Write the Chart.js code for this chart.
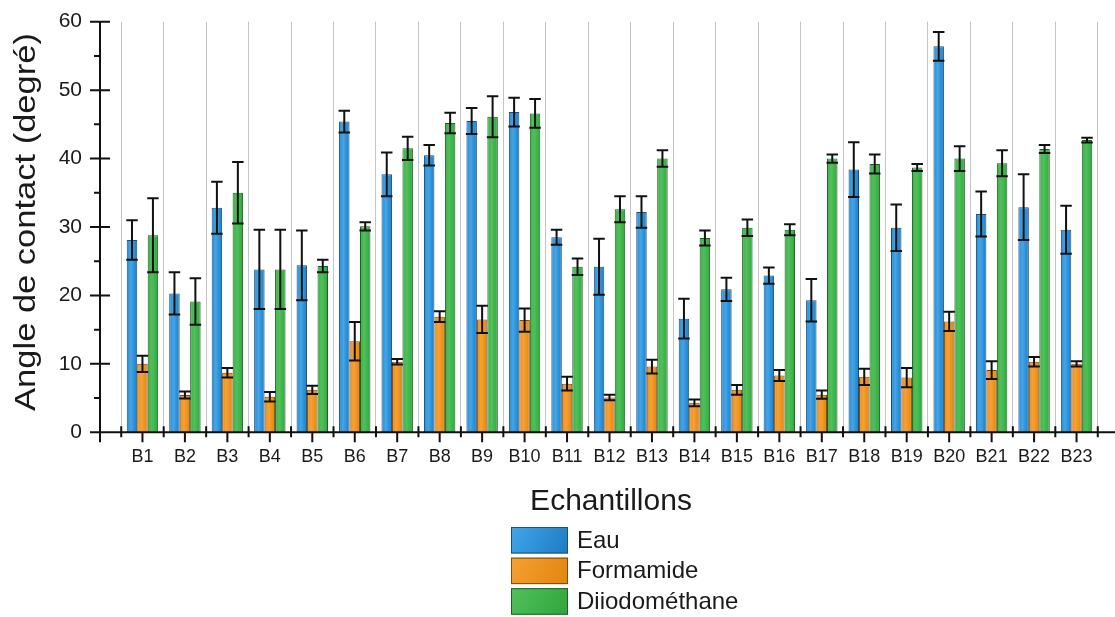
<!DOCTYPE html>
<html>
<head>
<meta charset="utf-8">
<script src="https://cdn.jsdelivr.net/npm/chart.js@4/dist/chart.umd.min.js"></script>
<style>
html,body{margin:0;padding:0;background:#fff;overflow:hidden;width:1115px;height:617px}
#wrap{position:relative;width:1115px;height:617px;overflow:hidden}
canvas{display:block}
</style>
</head>
<body>
<div id="wrap"><canvas id="c" width="1119" height="617" style="width:1119px;height:617px"></canvas></div>
<script>
const categories = ['B1','B2','B3','B4','B5','B6','B7','B8','B9','B10','B11','B12','B13','B14','B15','B16','B17','B18','B19','B20','B21','B22','B23'];
const seriesNames = ['Eau','Formamide','Diiodométhane'];
const eau      = [28.1,20.3,32.8,23.8,24.4,45.4,37.7,40.5,45.5,46.8,28.5,24.2,32.2,16.6,20.9,22.9,19.3,38.4,29.9,56.4,31.9,32.9,29.6];
const eauErr   = [2.9,3.1,3.8,5.8,5.1,1.6,3.2,1.5,1.9,2.1,1.1,4.1,2.3,2.9,1.7,1.2,3.1,4.0,3.4,2.1,3.3,4.8,3.5];
const forma    = [10.0,5.45,8.7,5.2,6.2,13.3,10.3,16.9,16.5,16.4,7.1,5.1,9.6,4.3,6.2,8.3,5.5,8.1,8.0,16.2,9.1,10.3,10.0];
const formaErr = [1.2,0.5,0.7,0.7,0.6,2.8,0.4,0.8,2.0,1.7,1.0,0.4,1.0,0.5,0.7,0.8,0.6,1.2,1.4,1.4,1.3,0.7,0.4];
const diiodo   = [28.8,19.1,35.0,23.8,24.3,30.1,41.5,45.2,46.1,46.6,24.2,32.6,40.0,28.4,29.9,29.6,40.0,39.2,38.7,40.0,39.3,41.4,42.7];
const diiodoErr= [5.4,3.4,4.5,5.8,0.9,0.6,1.7,1.5,3.0,2.1,1.2,1.9,1.2,1.1,1.2,0.8,0.6,1.4,0.5,1.8,1.9,0.6,0.35];
const yTicks = [0,10,20,30,40,50,60];
const xTitle = 'Echantillons';
const yTitle = 'Angle de contact (degré)';

const FONT = "'Liberation Sans', Arial, Helvetica, sans-serif";
const TEXT = '#1a1a1a';
const pad = a => [null, ...a, null];
const xLabels = ['', ...categories, ''];

function barGrad(stops) {
  return c => {
    const el = c.element;
    if (!el || !isFinite(el.x) || !isFinite(el.width) || el.width <= 0) return stops[1];
    const g = c.chart.ctx.createLinearGradient(el.x - el.width / 2, 0, el.x + el.width / 2, 0);
    g.addColorStop(0, stops[0]);
    g.addColorStop(0.4, stops[1]);
    g.addColorStop(1, stops[2]);
    return g;
  };
}
const styles = [
  {stops:['#2a8bd3','#41a6e8','#1e7bc3'], border:'#1b4f7c'},
  {stops:['#ee8f1a','#f5a133','#e3840f'], border:'#7f4a0e'},
  {stops:['#3cb047','#50c15a','#32a53d'], border:'#1d5f25'}
];
const values = [eau, forma, diiodo];
const errs = [eauErr, formaErr, diiodoErr];

const decor = {
  id: 'decor',
  afterDatasetsDraw(chart) {
    const ctx = chart.ctx, y = chart.scales.y;
    ctx.save();
    ctx.strokeStyle = '#111';
    ctx.lineWidth = 2;
    chart.data.datasets.forEach((ds, di) => {
      const meta = chart.getDatasetMeta(di);
      meta.data.forEach((bar, i) => {
        const v = ds.data[i], e = ds.errors[i];
        if (v == null || e == null) return;
        const yT = y.getPixelForValue(v + e), yB = y.getPixelForValue(v - e);
        const half = bar.width / 2 + 0.5;
        ctx.beginPath();
        ctx.moveTo(bar.x, yT); ctx.lineTo(bar.x, yB);
        ctx.moveTo(bar.x - half, yT); ctx.lineTo(bar.x + half, yT);
        ctx.moveTo(bar.x - half, yB); ctx.lineTo(bar.x + half, yB);
        ctx.stroke();
      });
    });
    ctx.restore();
  },
  afterDraw(chart) {
    const ctx = chart.ctx, x = chart.scales.x, y = chart.scales.y, a = chart.chartArea;
    ctx.save();
    ctx.strokeStyle = '#111';
    ctx.lineWidth = 2;
    ctx.beginPath();
    ctx.moveTo(a.left, a.top); ctx.lineTo(a.left, a.bottom + 10);
    ctx.moveTo(a.left - 10, a.bottom); ctx.lineTo(chart.width, a.bottom);
    for (let v = y.min; v <= y.max; v += 5) {
      const py = y.getPixelForValue(v);
      if (v % 10 === 0) { ctx.moveTo(a.left - 10, py); ctx.lineTo(a.left + 10, py); }
      else { ctx.moveTo(a.left - 6, py); ctx.lineTo(a.left, py); }
    }
    for (let i = 1; i <= categories.length; i++) {
      const px = x.getPixelForValue(i);
      ctx.moveTo(px, a.bottom); ctx.lineTo(px, a.bottom + 10);
    }
    for (let i = 0; i <= categories.length; i++) {
      const px = (x.getPixelForValue(i) + x.getPixelForValue(i + 1)) / 2;
      ctx.moveTo(px, a.bottom - 6); ctx.lineTo(px, a.bottom + 5);
    }
    ctx.stroke();

    ctx.fillStyle = TEXT;
    ctx.font = '30px ' + FONT;
    ctx.textAlign = 'center';
    ctx.textBaseline = 'alphabetic';
    ctx.fillText(xTitle, (a.left + a.right) / 2 + 1.5, 510);
    ctx.save();
    ctx.translate(27, (a.top + a.bottom) / 2 - 5);
    ctx.rotate(-Math.PI / 2);
    ctx.scale(1.15, 1);
    ctx.textBaseline = 'middle';
    ctx.fillText(yTitle, 0, 0);
    ctx.restore();

    ctx.font = '24px ' + FONT;
    ctx.textAlign = 'left';
    ctx.textBaseline = 'middle';
    chart.data.datasets.forEach((ds, di) => {
      const bx = 511, by = 527 + di * 30.6, bw = 57, bh = 26.5;
      const g = ctx.createLinearGradient(bx, by, bx + bw, by + bh);
      g.addColorStop(0, styles[di].stops[1]);
      g.addColorStop(1, styles[di].stops[2]);
      ctx.fillStyle = g;
      ctx.fillRect(bx, by, bw, bh);
      ctx.lineWidth = 1;
      ctx.strokeStyle = styles[di].border;
      ctx.strokeRect(bx + 0.5, by + 0.5, bw - 1, bh - 1);
      ctx.fillStyle = TEXT;
      ctx.fillText(ds.label, 577, by + bh / 2 + 1);
    });
    ctx.restore();
  }
};

const chart = new Chart(document.getElementById('c'), {
  type: 'bar',
  data: {
    labels: xLabels,
    datasets: seriesNames.map((name, k) => ({
      label: name,
      data: pad(values[k]),
      errors: pad(errs[k]),
      backgroundColor: barGrad(styles[k].stops),
      borderColor: styles[k].border,
      borderWidth: 1,
      barPercentage: 1,
      categoryPercentage: 0.74
    }))
  },
  options: {
    responsive: false,
    animation: false,
    devicePixelRatio: 1,
    layout: { padding: { top: 21.7, left: 0, right: 0, bottom: 0 } },
    plugins: { legend: { display: false }, tooltip: { enabled: false }, title: { display: false } },
    scales: {
      x: {
        type: 'category',
        offset: false,
        grid: { offset: true, color: '#c4c4c4', lineWidth: 1, drawTicks: false },
        border: { display: false },
        ticks: { autoSkip: false, maxRotation: 0, minRotation: 0, padding: 14, color: TEXT, font: { family: FONT, size: 18 } },
        afterFit: s => { s.height = 617 - 432.3; s.paddingLeft = 0; s.paddingRight = 0; }
      },
      y: {
        min: 0, max: 60,
        afterBuildTicks: s => { s.ticks = yTicks.map(v => ({ value: v })); },
        grid: { display: false, drawTicks: false },
        border: { display: false },
        ticks: { padding: 18, color: TEXT, font: { family: FONT, size: 21 } },
        afterFit: s => { s.width = 100; s.paddingTop = 0; s.paddingBottom = 0; }
      }
    }
  },
  plugins: [decor]
});
chart.update();
</script>
</body>
</html>
